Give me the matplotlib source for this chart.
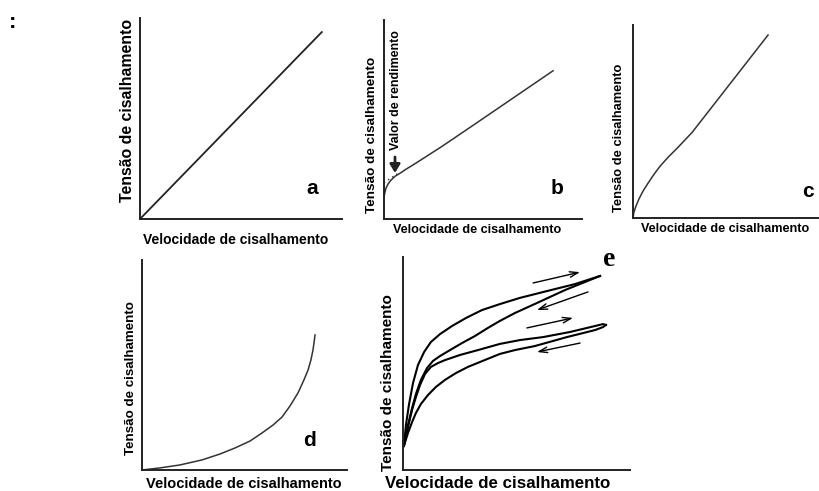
import matplotlib
matplotlib.use("Agg")
import matplotlib.pyplot as plt

# rotulos
rotulo_x = "Velocidade de cisalhamento"
rotulo_y = "Tensão de cisalhamento"

# curvas (unidades arbitrarias 0-100)
a_x = [0, 90]
a_y = [0, 93]

b_x = [0, 0.5, 1, 2, 3.5, 5.6, 8.1, 11.1, 15.2, 20.7, 29.3, 43.4, 85.4]
b_y = [11, 13.5, 15.5, 17.5, 19.5, 21.5, 23, 25, 27.5, 31, 36.5, 46, 74.5]
b_tang_x = [0, 8]
b_tang_y = [18.3, 23.5]

c_x = [0, 0.5, 1.6, 3.2, 5.4, 8.1, 11.4, 14.6, 18.9, 24.3, 31.9, 41.6, 73.0]
c_y = [0, 3.1, 6.2, 9.8, 13.9, 18.0, 22.7, 26.8, 31.4, 36.6, 44.3, 56.2, 94.8]

d_x = [0, 8.8, 18.5, 29.3, 38.0, 45.4, 52.7, 58.5, 63.9, 68.3, 72.2, 76.1,
       79.0, 81.0, 82.4, 83.4, 83.9, 84.4]
d_y = [0, 1.0, 2.4, 4.8, 7.6, 10.5, 13.8, 17.6, 21.4, 25.2, 30.5, 36.7,
       42.9, 47.6, 52.4, 57.1, 60.5, 64.3]

# tixotropia: dois ciclos (subida e descida)
e1_x = [0.4, 1.3, 2.6, 4.4, 6.6, 9.3, 12.3, 16.3, 21.6, 27.8, 34.8, 42.7,
        51.5, 63.4, 75.8, 86.8]
e1_y = [11.3, 21.1, 30.5, 40.8, 49.3, 55.4, 60.1, 63.8, 67.6, 71.4, 75.1,
        77.9, 80.8, 84.0, 87.3, 91.1]
e2_x = [0.4, 2.2, 4.0, 5.7, 7.9, 10.6, 13.2, 16.3, 20.7, 26.0, 31.7, 37.4,
        42.7, 49.3, 59.0, 71.4, 86.8]
e2_y = [11.3, 21.1, 29.1, 35.7, 42.3, 47.9, 51.2, 53.5, 56.3, 59.6, 62.9,
        66.7, 70.0, 73.7, 78.4, 84.5, 91.1]
e3_x = [0.4, 2.2, 4.0, 5.7, 7.5, 9.7, 12.3, 15.4, 18.5, 25.1, 33.0, 42.7,
        51.5, 61.7, 73.6, 84.6, 88.1, 89.4]
e3_y = [11.3, 20.2, 28.2, 34.3, 39.9, 45.1, 48.4, 50.2, 51.6, 54.0, 56.3,
        59.2, 61.0, 62.4, 64.8, 67.6, 68.5, 68.1]
e4_x = [0.4, 2.2, 4.0, 5.7, 7.9, 11.0, 14.5, 18.5, 23.3, 28.6, 33.9, 42.7,
        49.3, 58.1, 72.2, 84.6, 88.1, 89.4]
e4_y = [11.3, 17.4, 22.5, 26.8, 31.0, 35.2, 39.0, 42.3, 45.5, 48.4, 50.7,
        54.5, 56.3, 58.2, 62.4, 65.7, 67.1, 68.1]
# setas (cauda -> ponta)
setas = [((57.3, 87.8), (78.0, 92.9)),
         ((81.5, 83.6), (59.0, 75.1)),
         ((54.6, 66.7), (74.9, 71.4)),
         ((78.0, 59.6), (59.0, 55.4))]

W, H = 819, 491
fig = plt.figure(figsize=(W / 100, H / 100), dpi=100)
fonte = ["Liberation Sans", "DejaVu Sans"]


def eixo(x0, y0, x1, y1):
    # x0,y0 canto superior esquerdo; x1,y1 canto inferior direito (pixels)
    ax = fig.add_axes([x0 / W, 1 - y1 / H, (x1 - x0) / W, (y1 - y0) / H])
    ax.set_xlim(0, 100)
    ax.set_ylim(0, 100)
    ax.spines["top"].set_visible(False)
    ax.spines["right"].set_visible(False)
    for s in ["left", "bottom"]:
        ax.spines[s].set_linewidth(1.4)
        ax.spines[s].set_color("#222222")
    ax.set_xticks([])
    ax.set_yticks([])
    ax.patch.set_alpha(0)
    return ax


def texto(x, y, s, size, rot=0, **kw):
    fig.text(x / W, 1 - y / H, s, fontsize=size, rotation=rot, ha="center",
             va="center", family=fonte, fontweight="bold", **kw)


# painel a
ax = eixo(140, 18, 342, 219)
ax.plot(a_x, a_y, color="#222222", lw=1.3)
texto(236, 240, rotulo_x, 10)
texto(127, 110, rotulo_y, 11.4, rot=90)
texto(312, 188, "a", 15)

# painel b
ax = eixo(384, 20, 582, 219)
ax.plot(b_x, b_y, color="#333333", lw=1.1, solid_joinstyle="round")
ax.plot(b_tang_x, b_tang_y, color="#333333", lw=1.0, ls=(0, (1, 2.5)))
texto(477, 230, rotulo_x, 9.1)
texto(372, 135, rotulo_y, 9.7, rot=90)
texto(396, 90, "Valor de rendimento", 8.9, rot=90)
fig.add_artist(matplotlib.patches.FancyArrowPatch(
    (395 / W, 1 - 157 / H), (395 / W, 1 - 173 / H), transform=fig.transFigure,
    arrowstyle="-|>,head_length=5,head_width=3", lw=2.0, color="#222222",
    shrinkA=0, shrinkB=0))
texto(557, 188, "b", 15)

# painel c
ax = eixo(633, 25, 818, 218)
ax.plot(c_x, c_y, color="#333333", lw=1.1, solid_joinstyle="round")
texto(725, 229, rotulo_x, 9.1)
texto(619, 138, rotulo_y, 9.3, rot=90)
texto(808, 191, "c", 15)

# painel d
ax = eixo(142, 260, 347, 470)
ax.plot(d_x, d_y, color="#333333", lw=1.1, solid_joinstyle="round")
texto(244, 484, rotulo_x, 10.5)
texto(131, 378, rotulo_y, 9.6, rot=90)
texto(310, 440, "d", 15)

# painel e
ax = eixo(403, 257, 630, 470)
for xs, ys in [(e1_x, e1_y), (e2_x, e2_y), (e3_x, e3_y), (e4_x, e4_y)]:
    ax.plot(xs, ys, color="black", lw=1.5, solid_joinstyle="round")
for cauda, ponta in setas:
    ax.annotate("", xy=ponta, xytext=cauda,
                arrowprops=dict(arrowstyle="->,head_length=0.6,head_width=0.2",
                                color="black", lw=1.0, shrinkA=0, shrinkB=0))
texto(498, 483, rotulo_x, 12.2)
texto(388, 383, rotulo_y, 11.0, rot=90)
fig.text(609 / W, 1 - 259 / H, "e", fontsize=20, family=["Liberation Serif"],
         fontweight="bold", ha="center", va="center")

texto(13, 22, ":", 16)

fig.savefig("out.png", dpi=100)
